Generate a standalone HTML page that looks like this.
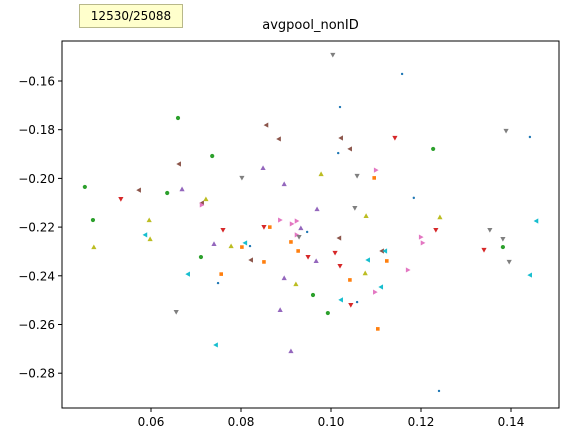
<!DOCTYPE html>
<html><head><meta charset="utf-8"><style>
html,body{margin:0;padding:0;background:#fff;width:568px;height:442px;overflow:hidden;font-family:"DejaVu Sans","Liberation Sans",sans-serif}
#tip{position:absolute;left:79px;top:4px;width:104px;height:24px;background:#ffffcc;border:1px solid #b8b88a;box-sizing:border-box;font-size:12px;line-height:22px;text-align:center;color:#000}
</style></head><body>
<svg id="chart" width="568" height="442" style="position:absolute;left:0;top:0"></svg>
<div id="tip">12530/25088</div>
<script>
const xTicks=[0.06,0.08,0.10,0.12,0.14];
const yTicks=[-0.16,-0.18,-0.20,-0.22,-0.24,-0.26,-0.28];
const blueX=[0.1158,0.1020,0.1016,0.1442,0.1184,0.0749,0.0820,0.0947,0.1058,0.1240];
const blueY=[-0.1571,-0.1707,-0.1896,-0.1830,-0.2080,-0.2430,-0.2278,-0.2220,-0.2508,-0.2873];
const orangeX=[0.1096,0.0864,0.0802,0.0911,0.0927,0.0851,0.0756,0.1124,0.1042,0.1104];
const orangeY=[-0.1998,-0.2200,-0.2282,-0.2261,-0.2298,-0.2343,-0.2393,-0.2339,-0.2417,-0.2618];
const greenX=[0.0660,0.0736,0.0453,0.0636,0.0471,0.1227,0.0711,0.0960,0.0993,0.1382];
const greenY=[-0.1752,-0.1908,-0.2035,-0.2060,-0.2171,-0.1879,-0.2323,-0.2479,-0.2553,-0.2282];
const redX=[0.0533,0.0851,0.0760,0.1142,0.0949,0.1233,0.1009,0.1020,0.1044,0.1340];
const redY=[-0.2085,-0.2200,-0.2212,-0.1834,-0.2323,-0.2212,-0.2306,-0.2360,-0.2520,-0.2294];
const purpleX=[0.0669,0.0849,0.0896,0.0933,0.0969,0.0740,0.0896,0.0887,0.0911,0.0967];
const purpleY=[-0.2044,-0.1957,-0.2023,-0.2204,-0.2126,-0.2269,-0.2409,-0.2540,-0.2709,-0.2339];
const brownX=[0.0856,0.0884,0.0662,0.0573,0.0713,0.1022,0.1042,0.0822,0.1018,0.1113];
const brownY=[-0.1781,-0.1838,-0.1941,-0.2048,-0.2101,-0.1834,-0.1879,-0.2335,-0.2245,-0.2298];
const pinkX=[0.0713,0.0887,0.0913,0.0924,0.1100,0.0924,0.1200,0.1204,0.1171,0.1098];
const pinkY=[-0.2109,-0.2171,-0.2187,-0.2175,-0.1966,-0.2232,-0.2241,-0.2265,-0.2376,-0.2467];
const grayX=[0.0802,0.1004,0.1389,0.1058,0.1053,0.1353,0.0929,0.0656,0.1382,0.1396];
const grayY=[-0.1998,-0.1493,-0.1805,-0.1990,-0.2122,-0.2212,-0.2241,-0.2549,-0.2249,-0.2343];
const oliveX=[0.0722,0.0596,0.0978,0.1078,0.1242,0.0473,0.0598,0.0778,0.0922,0.1076];
const oliveY=[-0.2085,-0.2171,-0.1982,-0.2154,-0.2159,-0.2282,-0.2249,-0.2278,-0.2434,-0.2389];
const cyanX=[0.1456,0.0587,0.0809,0.0682,0.0744,0.1120,0.1082,0.1111,0.1022,0.1442];
const cyanY=[-0.2175,-0.2232,-0.2265,-0.2393,-0.2684,-0.2298,-0.2335,-0.2446,-0.2499,-0.2397];

const NS="http://www.w3.org/2000/svg";
const svg=document.getElementById('chart');
const L=62,R=559,T=41,B=408;
function sx(v){return 151+(v-0.06)*4500;}
function sy(v){return 81-(v+0.16)*2435;}
function mk(tag,attrs,parent){const e=document.createElementNS(NS,tag);for(const k in attrs)e.setAttribute(k,attrs[k]);(parent||svg).appendChild(e);return e;}

const title=mk('text',{x:(L+R)/2,y:29,'text-anchor':'middle','font-size':'13'});
title.textContent='avgpool_nonID';



const series=[
 {n:'blue',x:blueX,y:blueY,c:'#1f77b4',m:'dot'},
 {n:'orange',x:orangeX,y:orangeY,c:'#ff7f0e',m:'sq'},
 {n:'green',x:greenX,y:greenY,c:'#2ca02c',m:'circ'},
 {n:'red',x:redX,y:redY,c:'#d62728',m:'down'},
 {n:'purple',x:purpleX,y:purpleY,c:'#9467bd',m:'up'},
 {n:'brown',x:brownX,y:brownY,c:'#8c564b',m:'left'},
 {n:'pink',x:pinkX,y:pinkY,c:'#e377c2',m:'right'},
 {n:'gray',x:grayX,y:grayY,c:'#7f7f7f',m:'down'},
 {n:'olive',x:oliveX,y:oliveY,c:'#bcbd22',m:'up'},
 {n:'cyan',x:cyanX,y:cyanY,c:'#17becf',m:'left'}
];
const s=2.6;
series.forEach(sr=>{
  const g=mk('g',{});
  
  
  sr.x.forEach((xv,i)=>{
    const px=sx(xv),py=sy(sr.y[i]);let e;
    if(sr.m==='dot')e=mk('circle',{cx:px,cy:py,r:1.2,fill:sr.c},g);
    else if(sr.m==='circ')e=mk('circle',{cx:px,cy:py,r:2.1,fill:sr.c},g);
    else if(sr.m==='sq')e=mk('rect',{x:px-1.8,y:py-1.8,width:3.6,height:3.6,fill:sr.c},g);
    else{let p;
      if(sr.m==='up')p=[[px,py-s],[px-s,py+s*0.8],[px+s,py+s*0.8]];
      else if(sr.m==='down')p=[[px,py+s],[px-s,py-s*0.8],[px+s,py-s*0.8]];
      else if(sr.m==='left')p=[[px-s,py],[px+s*0.8,py-s],[px+s*0.8,py+s]];
      else p=[[px+s,py],[px-s*0.8,py-s],[px-s*0.8,py+s]];
      e=mk('polygon',{points:p.map(q=>q.join(',')).join(' '),fill:sr.c},g);}
    
    
  });
});

const frame=mk('rect',{x:L,y:T,width:R-L,height:B-T,fill:'none',stroke:'#000','stroke-width':1});



xTicks.forEach(v=>{
  const px=sx(v);
  const t=mk('line',{x1:px,y1:B,x2:px,y2:B+4,stroke:'#000'});
  
  
  const lb=mk('text',{x:px,y:B+18,'text-anchor':'middle','font-size':'12'});
  lb.textContent=v.toFixed(2);
  
  
});
yTicks.forEach(v=>{
  const py=sy(v);
  const t=mk('line',{x1:L-4,y1:py,x2:L,y2:py,stroke:'#000'});
  
  
  const lb=mk('text',{x:L-7,y:py+4.5,'text-anchor':'end','font-size':'12'});
  lb.textContent='\u2212'+Math.abs(v).toFixed(2);
  
  
});
</script>
</body></html>
